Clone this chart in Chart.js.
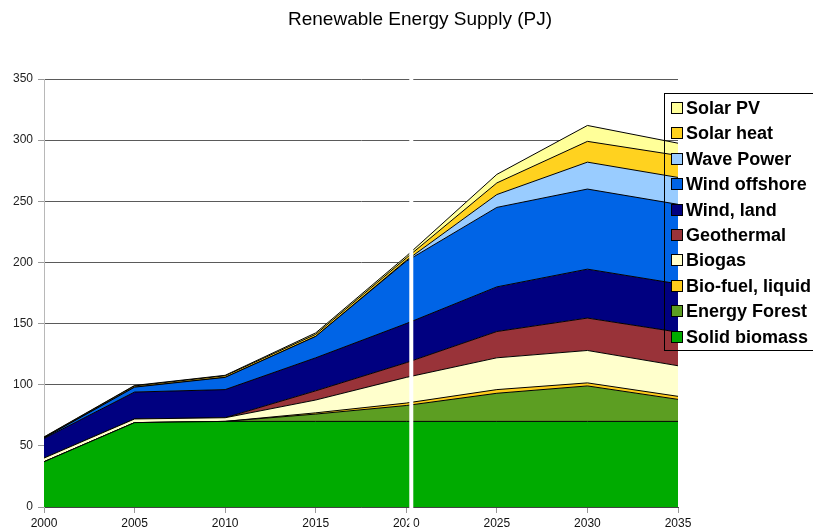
<!DOCTYPE html>
<html>
<head>
<meta charset="utf-8">
<script src="https://cdn.jsdelivr.net/npm/chart.js@4"></script>
<style>
  body { margin: 0; background: #fff; }
  canvas { display: block; }
</style>
</head>
<body>
<canvas id="myChart" width="813" height="531"></canvas>
<script>
const chartTitle = "Renewable Energy Supply (PJ)";
const years = ["2000", "2005", "2010", "2015", "2020", "2025", "2030", "2035"];
const yTicks = [0, 50, 100, 150, 200, 250, 300, 350];

// values per source, bottom layer first
const solidBiomass = [37, 69, 70, 70, 70, 70, 70, 70];
const energyForest = [0, 0, 0, 6, 13, 23, 29, 18];
const bioFuel = [0, 0, 0, 1, 2, 3, 2.5, 2.5];
const biogas = [3, 3, 3, 10.5, 21, 26, 26.5, 25];
const geothermal = [0, 0, 0, 7.5, 12, 21.5, 26.5, 27.5];
const windLand = [16, 22, 23, 27, 32, 36.5, 40, 39.5];
const windOffshore = [0.5, 4, 10, 17.5, 51, 65, 65.5, 65];
const wavePower = [0, 0, 0, 0, 0.6, 10.5, 22, 22];
const solarHeat = [0.5, 1, 1.3, 1.7, 2, 9.5, 17, 18];
const solarPV = [0.3, 0.4, 0.4, 1.2, 1.5, 7, 13, 10];

const seriesNames = ["Solid biomass", "Energy Forest", "Bio-fuel, liquid", "Biogas", "Geothermal",
  "Wind, land", "Wind offshore", "Wave Power", "Solar heat", "Solar PV"];
const seriesData = [solidBiomass, energyForest, bioFuel, biogas, geothermal,
  windLand, windOffshore, wavePower, solarHeat, solarPV];
const seriesColors = ["#00ab00", "#5c9e22", "#ffcc1c", "#ffffcc", "#993339",
  "#000080", "#0064e6", "#99ccff", "#ffd21f", "#ffff99"];

const FONT = '"Liberation Sans", Arial, sans-serif';

const extras = {
  id: "extras",
  afterDraw(chart) {
    const ctx = chart.ctx;
    ctx.save();
    // title
    ctx.fillStyle = "#000";
    ctx.font = "19px " + FONT;
    ctx.textAlign = "center";
    ctx.textBaseline = "middle";
    ctx.fillText(chartTitle, 420, 20);

    // white stripe next to 2020
    const xs = chart.scales.x.getPixelForValue(4) + 3;
    ctx.fillStyle = "#fff";
    ctx.fillRect(xs, 70, 4, 470);

    // legend, top entry first
    ctx.strokeStyle = "#000";
    ctx.lineWidth = 1;
    ctx.strokeRect(664.5, 93.5, 180, 257);
    ctx.font = "bold 18px " + FONT;
    ctx.textAlign = "left";
    const ds = chart.data.datasets;
    for (let i = 0; i < ds.length; i++) {
      const d = ds[ds.length - 1 - i];
      const y = Math.round(108 + i * 25.4);
      ctx.fillStyle = d.backgroundColor;
      ctx.fillRect(671.5, y - 5.5, 11, 11);
      ctx.strokeRect(671.5, y - 5.5, 11, 11);
      ctx.fillStyle = "#000";
      ctx.fillText(d.label, 686, y + 1);
    }
    ctx.restore();
  }
};

const ctx = document.getElementById("myChart");
new Chart(ctx, {
  type: "line",
  data: {
    labels: years,
    datasets: seriesData.map((vals, i) => ({
      label: seriesNames[i],
      data: vals,
      backgroundColor: seriesColors[i],
      borderColor: "#000",
      borderWidth: 1,
      pointRadius: 0,
      tension: 0,
      fill: i === 0 ? "origin" : "-1"
    }))
  },
  options: {
    responsive: false,
    animation: false,
    layout: { padding: { top: 79, right: 135, left: 0, bottom: 0 } },
    plugins: {
      legend: { display: false },
      title: { display: false },
      tooltip: { enabled: false }
    },
    scales: {
      x: {
        offset: false,
        afterFit: (s) => { s.height = 24; },
        grid: { drawOnChartArea: false, tickLength: 6, color: "#999" },
        border: { color: "#444", width: 1 },
        ticks: { color: "#111", font: { family: FONT, size: 12 }, padding: 3, maxRotation: 0 }
      },
      y: {
        stacked: true,
        min: 0,
        max: 350,
        afterFit: (s) => { s.width = 44; },
        afterBuildTicks: (s) => { s.ticks = yTicks.map(v => ({ value: v })); },
        grid: { color: "#5a5a5a", tickColor: "#999", tickLength: 6 },
        border: { color: "#b8b8b8" },
        ticks: { color: "#222", font: { family: FONT, size: 12 }, padding: 5 }
      }
    }
  },
  plugins: [extras]
});
</script>
</body>
</html>
